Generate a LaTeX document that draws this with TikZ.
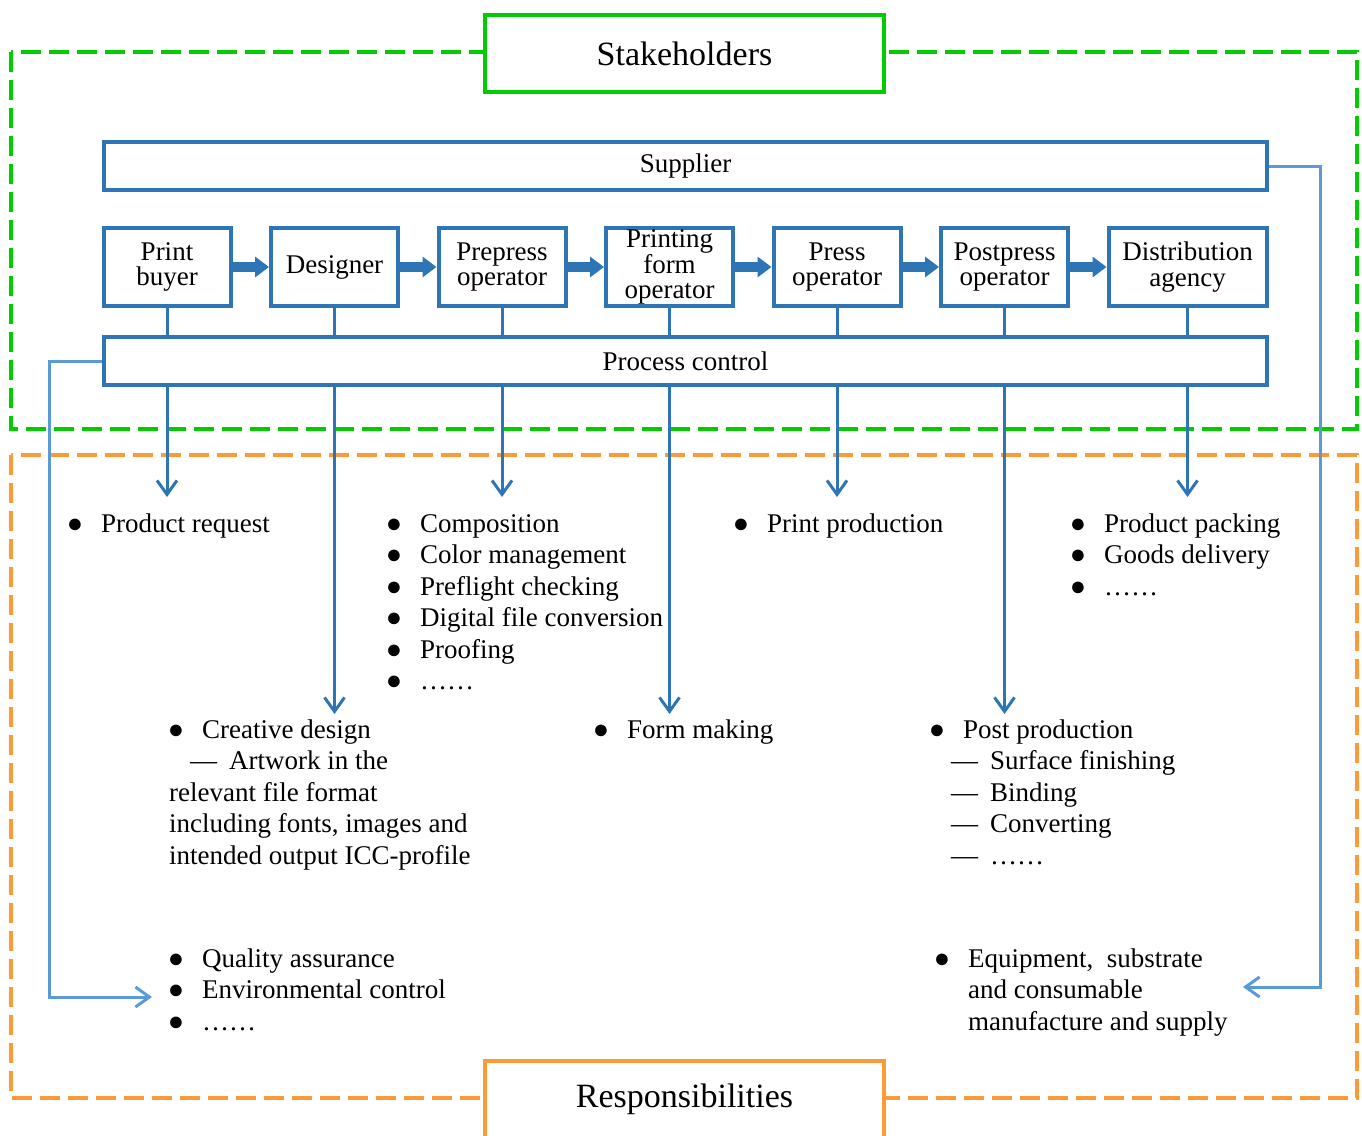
\documentclass[tikz,border=0pt]{standalone}
\usepackage{fontspec}
\setmainfont{Liberation Serif}
\usepackage{xcolor}
\usepackage{tikz}
\usetikzlibrary{arrows.meta,positioning}

\definecolor{boxblue}{RGB}{46,117,182}
\definecolor{lineblue}{RGB}{91,155,213}
\definecolor{grp}{RGB}{0,204,0}
\definecolor{resp}{RGB}{250,155,55}

\newcommand{\bu}{\llap{●\hspace{18pt}}}
\newcommand{\da}{\llap{---\hspace{12pt}}}

\tikzset{
  actor/.style = {draw=boxblue, line width=4pt, minimum width=127pt, minimum height=78pt,
    inner sep=0pt, align=center, font=\fontsize{27}{25.5}\selectfont},
  bar/.style = {draw=boxblue, line width=4pt, minimum width=1163pt, minimum height=48pt,
    inner sep=0pt, font=\fontsize{27}{30}\selectfont},
  title/.style = {line width=4pt, fill=white, minimum width=399pt, minimum height=77pt,
    font=\fontsize{34}{40}\selectfont},
  group/.style = {line width=4pt, dash pattern=on 20pt off 8pt},
  pass/.style = {boxblue, line width=10pt, -{Triangle[length=14pt,width=20pt]}},
  tie/.style = {boxblue, line width=3pt},
  duty/.style = {boxblue, line width=3pt, -{Straight Barb[length=14pt,width=20pt]}},
  feed/.style = {lineblue, line width=3pt, -{Straight Barb[length=14pt,width=20pt]}},
  % lists are placed at the baseline of their last line
  items/.style = {anchor=base west, inner sep=0pt, align=left, font=\fontsize{27}{31.5}\selectfont}
}

\begin{document}
\begin{tikzpicture}[x=1pt, y=-1pt, node distance=36.5pt]
  \clip (0,0) rectangle (1362,1135);

  % stakeholders
  \draw[grp, group] (11,52) rectangle (1357,429);
  \node (stake) [title, draw=grp] at (684.5,53.5) {Stakeholders};

  \node (sup) [bar] at (685.5,166) {Supplier};

  \node (pb) [actor] at (167,267) {Print\\buyer};
  \node (des) [actor, right=of pb] {Designer};
  \node (pre) [actor, right=of des] {Prepress\\operator};
  \node (pf) [actor, right=of pre] {Printing\\form\\operator};
  \node (pr) [actor, right=of pf] {Press\\operator};
  \node (post) [actor, right=of pr] {Postpress\\operator};
  \node (dist) [actor, minimum width=158pt, right=of post] {Distribution\\agency};

  \draw[pass] (pb) -- (des);
  \draw[pass] (des) -- (pre);
  \draw[pass] (pre) -- (pf);
  \draw[pass] (pf) -- (pr);
  \draw[pass] (pr) -- (post);
  \draw[pass] (post) -- (dist);

  \node (pc) [bar] at (685.5,361) {Process control};

  \draw[tie] (pb) -- (pb |- pc.north);
  \draw[tie] (des) -- (des |- pc.north);
  \draw[tie] (pre) -- (pre |- pc.north);
  \draw[tie] (pf) -- (pf |- pc.north);
  \draw[tie] (pr) -- (pr |- pc.north);
  \draw[tie] (post) -- (post |- pc.north);
  \draw[tie] (dist) -- (dist |- pc.north);

  % responsibilities
  \draw[resp, group] (11,455) rectangle (1357,1098);
  \node (respo) [title, draw=resp] at (684.5,1099) {Responsibilities};

  \coordinate (row1) at (0,497);
  \coordinate (row2) at (0,714);

  \draw[duty] (pb |- pc.south) -- (pb |- row1);
  \draw[duty] (des |- pc.south) -- (des |- row2);
  \draw[duty] (pre |- pc.south) -- (pre |- row1);
  \draw[duty] (pf |- pc.south) -- (pf |- row2);
  \draw[duty] (pr |- pc.south) -- (pr |- row1);
  \draw[duty] (post |- pc.south) -- (post |- row2);
  \draw[duty] (dist |- pc.south) -- (dist |- row1);

  \node (req) [items] at (101,532) {\bu Product request};
  \node (comp) [items] at (420,689.5) {\bu Composition\\ \bu Color management\\
    \bu Preflight checking\\ \bu Digital file conversion\\ \bu Proofing\\ \bu ……};
  \node (prod) [items] at (767,532) {\bu Print production};
  \node (pack) [items] at (1104,595) {\bu Product packing\\ \bu Goods delivery\\ \bu ……};

  \node (crea) [items] at (169,864) {\hspace*{33pt}\bu Creative design\\
    \hspace*{60pt}\da Artwork in the\\ relevant file format\\
    including fonts, images and\\ intended output ICC-profile};
  \node (form) [items] at (627,738) {\bu Form making};
  \node (postp) [items] at (963,864) {\bu Post production\\
    \hspace*{27pt}\da Surface finishing\\ \hspace*{27pt}\da Binding\\
    \hspace*{27pt}\da Converting\\ \hspace*{27pt}\da ……};

  \node (qa) [items] at (202,1030) {\bu Quality assurance\\ \bu Environmental control\\ \bu ……};
  \node (eq) [items] at (968,1030) {\bu Equipment,~ substrate\\ and consumable\\
    manufacture and supply};

  \coordinate (eqtip) at (1243,987);
  \coordinate (qatip) at (152,997);
  \draw[feed] (sup.east) -- ++(51,0) |- (eqtip);
  \draw[feed] (pc.west) -- ++(-53,0) |- (qatip);
\end{tikzpicture}
\end{document}
